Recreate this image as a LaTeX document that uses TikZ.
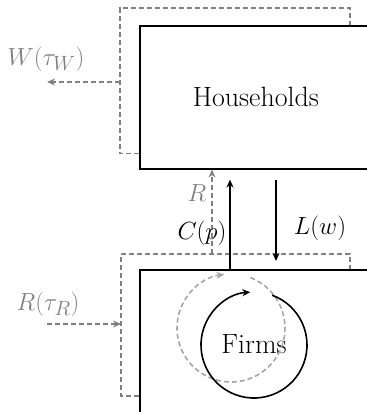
\documentclass[tikz,border=0pt]{standalone}
\usepackage{xcolor}
\definecolor{cGray}{HTML}{808080}
\definecolor{cLight}{HTML}{A6A6A6}
\usetikzlibrary{positioning,arrows.meta,calc}
\tikzset{
  node-sector/.style={draw=black,line width=1.6bp,inner sep=0pt,
    minimum width=232bp,minimum height=143bp,anchor=north west,
    font=\fontsize{28}{33}\selectfont},
  node-label/.style={inner sep=0pt,font=\fontsize{28}{33}\selectfont},
  node-label-gray/.style={node-label,text=cGray},
  frame-dash/.style={draw=cGray,line width=1.6bp,dash pattern=on 5bp off 3bp},
  arrow-flow/.style={-{Stealth[length=8bp,width=7bp]},line width=1.6bp,draw=black},
  arrow-tax/.style={-{Stealth[length=8bp,width=7bp]},line width=1.6bp,draw=cGray,
    dash pattern=on 5bp off 3bp},
  circ-solid/.style={-{Stealth[length=8bp,width=7bp]},line width=1.6bp,draw=black},
  circ-dash/.style={-{Stealth[length=8bp,width=7bp]},line width=1.6bp,draw=cLight,
    dash pattern=on 5bp off 3bp},
}

\begin{document}
\begin{tikzpicture}[x=1bp,y=-1bp]
  \useasboundingbox (0,0) rectangle (367,412);
  \clip (0,0) rectangle (367,412);
  % sectors
  \node[node-sector]                     (hh)    at (139,25)  {Households};
  \node[node-sector,minimum height=180bp] (fbox) at (139,269) {};
  \node[node-label]                      (firms) at (254,344) {Firms};
  % dashed frames
  \coordinate (hhframe) at (120,8);
  \coordinate (fframe)  at (121,254);
  \draw[frame-dash] ($(hh.south west)+(0,-16)$) -| (hhframe) -| ($(hh.north west)+(211,0)$);
  \draw[frame-dash] ($(fbox.north west)+(0,127)$) -| (fframe) -| ($(fbox.north west)+(211,0)$);
  % taxes
  \coordinate (wout) at (47,82);
  \coordinate (rin)  at (47,324);
  \coordinate (rsrc) at (212,254);
  \draw[arrow-tax] (hhframe |- wout) -- (wout);
  \draw[arrow-tax] (rin) -- (rin -| fframe);
  \draw[arrow-tax] (rsrc) -- (rsrc |- hh.south);
  \node[node-label-gray] (wlab) at (46,59)  {$W(\tau_W)$};
  \node[node-label-gray] (rlab) at (48,304) {$R(\tau_R)$};
  \node[node-label-gray] (rtop) at (197,193) {$R$};
  % flows
  \draw[arrow-flow] ($(fbox.north west)+(91,0)$) -- ($(hh.south west)+(91,10)$);
  \draw[arrow-flow] ($(hh.south west)+(137,10)$) -- ($(fbox.north west)+(137,-8)$);
  \node[node-label] (cplab) at (202,233) {$C(p)$};
  \node[node-label] (lwlab) at (320,228) {$L(w)$};
  % circular flows
  \draw[circ-dash] ($(firms.center)+(-23,-16)+(69:54bp)$)
    arc[start angle=69,end angle=-263,radius=54bp];
  \draw[circ-solid] ($(firms.center)+(0,1)+(70:53bp)$)
    arc[start angle=70,end angle=-266,radius=53bp];
\end{tikzpicture}
\end{document}
